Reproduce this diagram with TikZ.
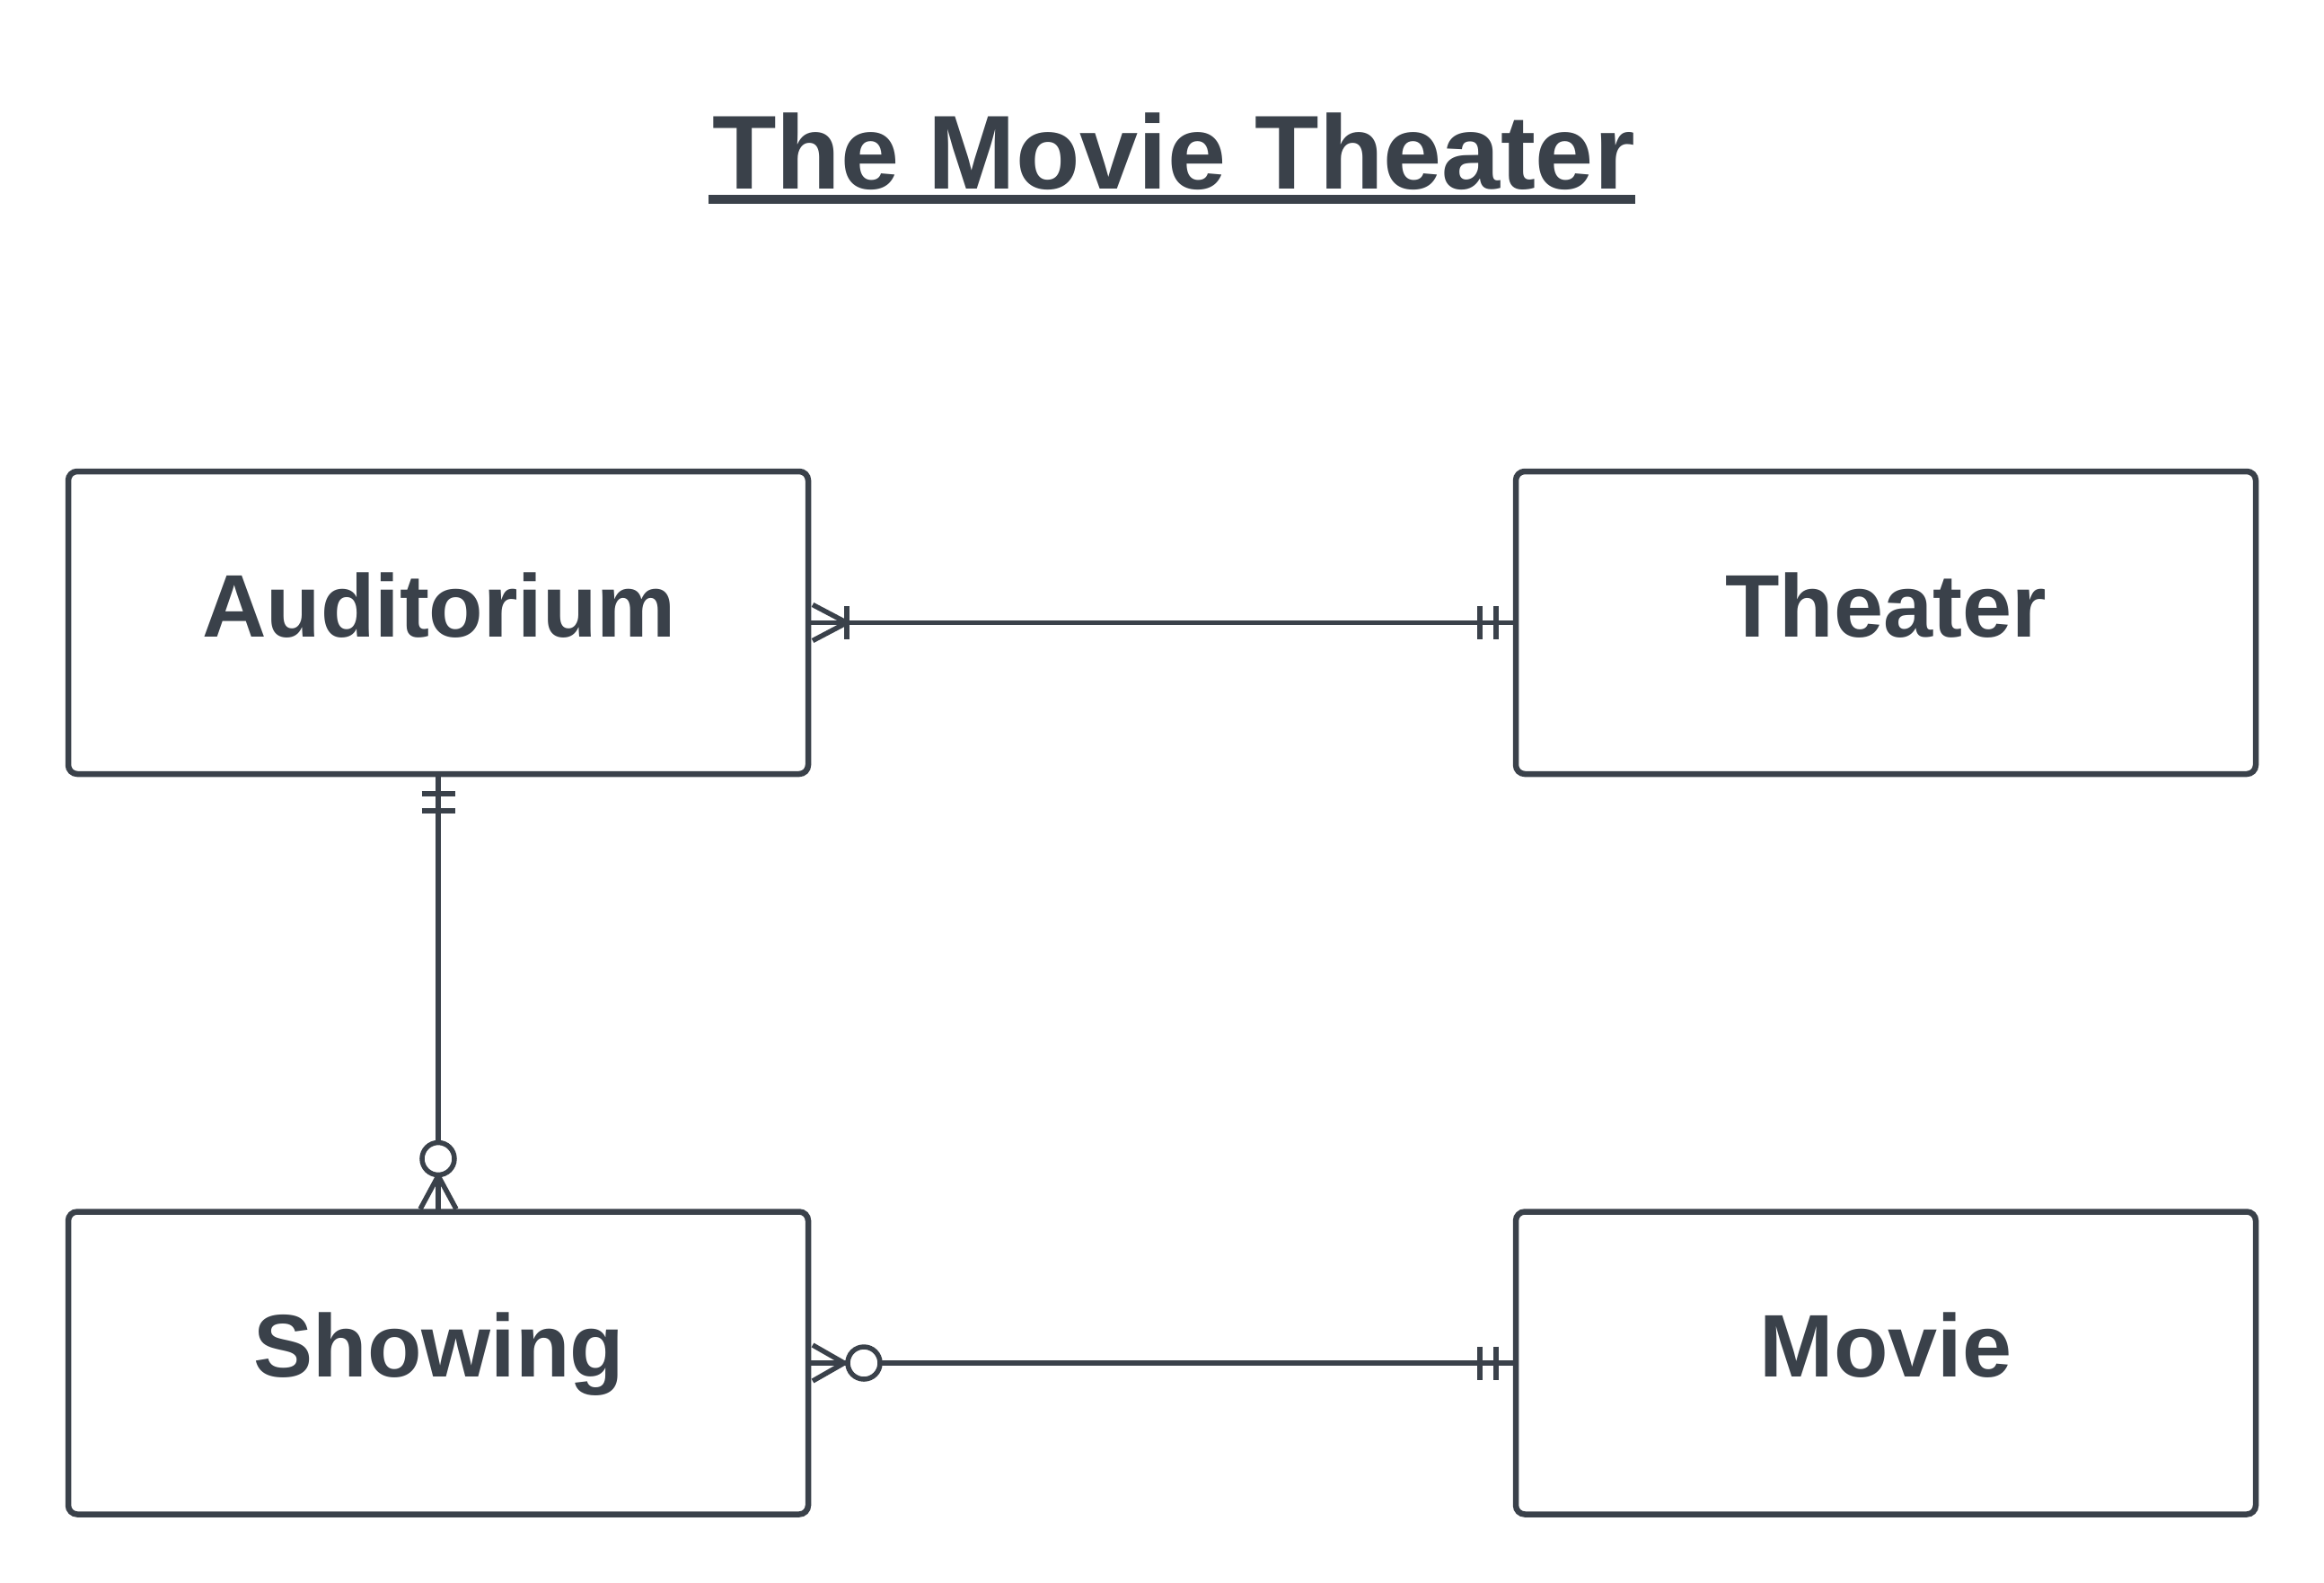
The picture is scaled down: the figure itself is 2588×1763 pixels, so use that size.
\documentclass[tikz,border=0pt]{standalone}
\usepackage{fontspec}
\setmainfont{Liberation Sans}
\usetikzlibrary{calc}
\definecolor{ink}{HTML}{3A414A}
\begin{document}
\begin{tikzpicture}[x=1pt,y=-1pt,
  entity/.style={draw=ink,line width=6.5pt,rounded corners=10pt,minimum width=824pt,minimum height=337pt,outer sep=0pt,inner sep=0pt},
  lbl/.style={text=ink,font=\fontsize{99}{115}\selectfont\bfseries,anchor=base,inner sep=0pt},
  conn/.style={draw=ink,line width=5.5pt},
  ring/.style={draw=ink,line width=5.5pt,fill=white}]
\useasboundingbox (0,0) rectangle (2588,1763);
\node[text=ink,font=\fontsize{117}{135}\selectfont\bfseries,anchor=base,inner sep=0pt] (title) at (1307,211) {The Movie Theater};
\draw[ink,line width=9pt] (789,222) -- (1821,222);
\node[entity] (aud) at (488,693.5) {};
\node[entity] (th) at (2100,693.5) {};
\node[entity] (sh) at (488,1518) {};
\node[entity] (mv) at (2100,1518) {};
\node[lbl] (audl) at (489,709) {Auditorium};
\node[lbl] (thl) at (2100,709) {Theater};
\node[lbl] (shl) at (489,1533) {Showing};
\node[lbl] (mvl) at (2100,1533) {Movie};
% Auditorium -- Theater
\draw[conn] (aud.east) -- (th.west);
\draw[conn] ($(aud.east)+(5,-20)$) -- ($(aud.east)+(43,0)$) -- ($(aud.east)+(5,20)$);
\draw[conn] ($(aud.east)+(43,-18.5)$) -- ($(aud.east)+(43,18.5)$);
\draw[conn] ($(th.west)+(-40,-18.5)$) -- ($(th.west)+(-40,18.5)$);
\draw[conn] ($(th.west)+(-22,-18.5)$) -- ($(th.west)+(-22,18.5)$);
% Auditorium -- Showing
\draw[conn] (aud.south) -- (sh.north);
\draw[conn] ($(aud.south)+(-18.5,22)$) -- ($(aud.south)+(18.5,22)$);
\draw[conn] ($(aud.south)+(-18.5,41)$) -- ($(aud.south)+(18.5,41)$);
\draw[conn] ($(sh.north)+(-20,-3)$) -- ($(sh.north)+(0,-40)$) -- ($(sh.north)+(20,-3)$);
\draw[ring] ($(sh.north)+(0,-59)$) circle[radius=18];
% Showing -- Movie
\draw[conn] (sh.east) -- (mv.west);
\draw[conn] ($(sh.east)+(5,-20)$) -- ($(sh.east)+(40,0)$) -- ($(sh.east)+(5,20)$);
\draw[ring] ($(sh.east)+(62,0)$) circle[radius=18];
\draw[conn] ($(mv.west)+(-40,-18.5)$) -- ($(mv.west)+(-40,18.5)$);
\draw[conn] ($(mv.west)+(-22,-18.5)$) -- ($(mv.west)+(-22,18.5)$);
\end{tikzpicture}
\end{document}
